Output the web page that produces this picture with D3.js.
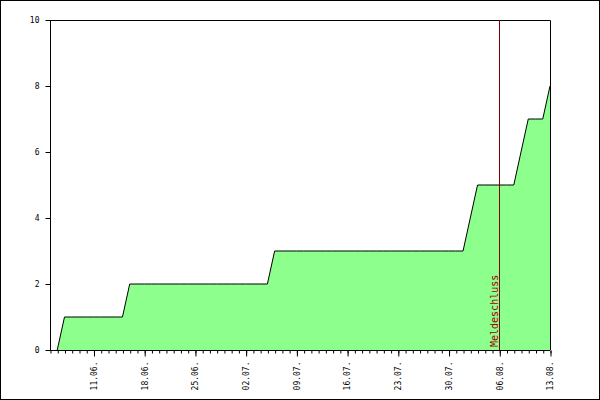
<!DOCTYPE html>
<html><head><meta charset="utf-8">
<script src="https://cdn.jsdelivr.net/npm/d3@7"></script>
<style>body{margin:0;background:#fff}svg{display:block}</style>
</head><body>
<script>
const dates = ["2024-06-06","2024-06-07","2024-06-08","2024-06-09","2024-06-10","2024-06-11","2024-06-12","2024-06-13","2024-06-14","2024-06-15",
"2024-06-16","2024-06-17","2024-06-18","2024-06-19","2024-06-20","2024-06-21","2024-06-22","2024-06-23","2024-06-24","2024-06-25",
"2024-06-26","2024-06-27","2024-06-28","2024-06-29","2024-06-30","2024-07-01","2024-07-02","2024-07-03","2024-07-04","2024-07-05",
"2024-07-06","2024-07-07","2024-07-08","2024-07-09","2024-07-10","2024-07-11","2024-07-12","2024-07-13","2024-07-14","2024-07-15",
"2024-07-16","2024-07-17","2024-07-18","2024-07-19","2024-07-20","2024-07-21","2024-07-22","2024-07-23","2024-07-24","2024-07-25",
"2024-07-26","2024-07-27","2024-07-28","2024-07-29","2024-07-30","2024-07-31","2024-08-01","2024-08-02","2024-08-03","2024-08-04",
"2024-08-05","2024-08-06","2024-08-07","2024-08-08","2024-08-09","2024-08-10","2024-08-11","2024-08-12","2024-08-13"];
const values = [0,1,1,1,1,1,1,1,1,1,
2,2,2,2,2,2,2,2,2,2,
2,2,2,2,2,2,2,2,2,2,
3,3,3,3,3,3,3,3,3,3,
3,3,3,3,3,3,3,3,3,3,
3,3,3,3,3,3,3,4,5,5,
5,5,5,5,6,7,7,7,8];
const yTicks = [0,2,4,6,8,10];
const xTickLabels = ["11.06.","18.06.","25.06.","02.07.","09.07.","16.07.","23.07.","30.07.","06.08.","13.08."];
const domainStart = "2024-06-05", domainEnd = "2024-08-13";
const deadline = "2024-08-06";
const deadlineLabel = "Meldeschluss";

const W=600,H=400, m={l:50,r:50,t:20,b:50};
const parse = d3.utcParse("%Y-%m-%d");
const data = dates.map((d,i)=>({d:parse(d), v:values[i]}));
const svg = d3.select("body").append("svg").attr("width",W).attr("height",H);
svg.append("rect").attr("x",0.5).attr("y",0.5).attr("width",W-1).attr("height",H-1).attr("fill","#fff").attr("stroke","#000");
const x = d3.scaleUtc().domain([parse(domainStart), parse(domainEnd)]).range([m.l, W-m.r]);
const y = d3.scaleLinear().domain([0,10]).range([H-m.b, m.t]);
const font = "'DejaVu Sans Mono', monospace";

svg.append("path").datum(data)
  .attr("d", d3.area().x(d=>x(d.d)).y0(y(0)).y1(d=>y(d.v)))
  .attr("fill","#8cff8c");
svg.append("path").datum(data)
  .attr("d", d3.line().x(d=>x(d.d)).y(d=>y(d.v)))
  .attr("fill","none").attr("stroke","#000").attr("stroke-width",1);

// frame top/right
svg.append("path").attr("d",`M${m.l},${m.t+0.5}H${W-m.r+0.5}V${H-m.b}`).attr("fill","none").attr("stroke","#000");

// deadline
const xd = Math.round(x(parse(deadline)))+0.5;
svg.append("line").attr("x1",xd).attr("x2",xd).attr("y1",m.t).attr("y2",H-m.b).attr("stroke","#800000");
svg.append("text").attr("transform",`translate(${xd-2},${H-m.b-3}) rotate(-90)`)
  .attr("font-family",font).attr("font-size",10).attr("fill","#a00000").text(deadlineLabel);

// y axis
const ya = svg.append("g").attr("transform",`translate(${m.l+0.5},0)`)
  .call(d3.axisLeft(y).tickValues(yTicks).tickSize(5).tickPadding(6).tickFormat(d3.format("d")));
ya.select(".domain").attr("stroke","#000").attr("d",`M0,${m.t}V${H-m.b}`);
ya.selectAll("text").attr("font-family",font).attr("font-size",8).attr("fill","#000");

// x axis minor
const fmt = d3.utcFormat("%d.%m.");
const allDays = d3.utcDay.range(parse(domainStart), d3.utcDay.offset(parse(domainEnd),1));
const major = allDays.filter(d=>xTickLabels.includes(fmt(d)));
const xm = svg.append("g").attr("transform",`translate(0,${H-m.b+0.5})`)
  .call(d3.axisBottom(x).tickValues(allDays).tickSize(3).tickFormat(""));
xm.select(".domain").attr("d",`M${m.l},0H${W-m.r}`);
const xa = svg.append("g").attr("transform",`translate(0,${H-m.b+0.5})`)
  .call(d3.axisBottom(x).tickValues(major).tickSize(6).tickFormat(fmt));
xa.select(".domain").remove();
xa.selectAll(".tick line").attr("transform","translate(0.5,0)");
xa.selectAll("text").attr("font-family",font).attr("font-size",8).attr("fill","#000")
  .attr("transform","rotate(-90)").attr("text-anchor","end").attr("x",-11).attr("y",0).attr("dy","0.35em");
xm.selectAll(".tick line").attr("transform","translate(0.5,0)");
</script>
</body></html>
